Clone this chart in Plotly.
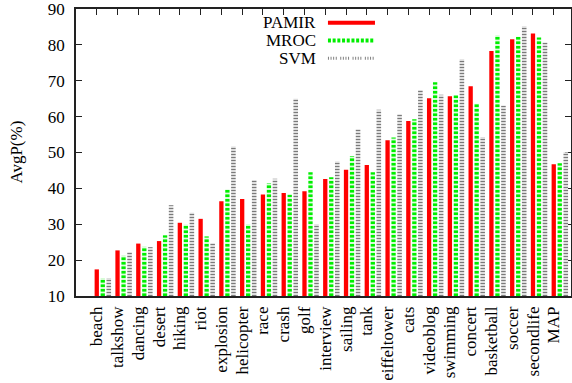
import plotly.graph_objects as go

categories = ["beach", "talkshow", "dancing", "desert", "hiking", "riot", "explosion",
              "helicopter", "race", "crash", "golf", "interview", "sailing", "tank",
              "eiffeltower", "cats", "videoblog", "swimming", "concert", "basketball",
              "soccer", "secondlife", "MAP"]
pamir = [17.4, 22.7, 24.6, 25.3, 30.4, 31.5, 36.4, 37.0, 38.3, 38.7, 39.2, 42.6,
         45.2, 46.5, 53.4, 58.8, 65.1, 65.7, 68.5, 78.3, 81.6, 83.2, 46.7]
mroc = [15.0, 21.2, 23.7, 26.9, 29.9, 26.6, 39.7, 30.0, 41.4, 38.2, 44.5, 43.1,
        49.0, 44.5, 54.2, 59.3, 69.6, 66.0, 63.6, 82.7, 82.3, 82.1, 47.0]
svm = [15.0, 22.2, 23.6, 35.3, 33.2, 24.7, 51.7, 42.3, 42.7, 65.0, 30.0, 47.5,
       56.5, 61.9, 60.7, 67.4, 66.1, 76.0, 54.3, 63.1, 85.2, 80.7, 50.1]
yticks = [10, 20, 30, 40, 50, 60, 70, 80, 90]
series_names = ["PAMIR", "MROC", "SVM"]

FONT = "Liberation Serif"
idx = list(range(len(categories)))

fig = go.Figure()
fig.add_trace(go.Bar(x=idx, y=pamir, name="PAMIR", width=0.207, offset=-0.104,
                     marker=dict(color="#ff0000", line=dict(width=0))))
fig.add_trace(go.Bar(x=idx, y=mroc, name="MROC", width=0.207, offset=0.185,
                     marker=dict(color="#ffffff", line=dict(width=0),
                                 pattern=dict(shape="-", fgcolor="#00ee00", bgcolor="#ffffff",
                                              size=4.5, solidity=0.65, fillmode="replace"))))
fig.add_trace(go.Bar(x=idx, y=svm, name="SVM", width=0.22, offset=0.468,
                     marker=dict(color="#ffffff", line=dict(width=0),
                                 pattern=dict(shape="-", fgcolor="#7a7a7a", bgcolor="#ffffff",
                                              size=3, solidity=0.5, fillmode="replace"))))

# manual legend (text right-aligned, sample on the right, gnuplot style)
leg_y = [0.952, 0.890, 0.828]
leg_styles = [dict(color="#ff0000", width=4, dash="solid"),
              dict(color="#00ee00", width=4, dash="3px,1.7px"),
              dict(color="#808080", width=3, dash="1px,1.6px,1px,1.6px,1px,1.6px,1px,3.5px")]
for name, yy, st in zip(series_names, leg_y, leg_styles):
    fig.add_annotation(x=0.488, y=yy, xref="paper", yref="paper", text=name,
                       showarrow=False, xanchor="right", yanchor="middle",
                       font=dict(family=FONT, size=17, color="black"))
    fig.add_shape(type="line", xref="paper", yref="paper", x0=0.509, x1=0.604,
                  y0=yy, y1=yy, line=st)

# y-axis title placed like gnuplot's ylabel
fig.add_annotation(x=-0.121, y=0.5, xref="paper", yref="paper", text="AvgP(%)",
                   textangle=-90, showarrow=False, xanchor="center", yanchor="middle",
                   font=dict(family=FONT, size=17, color="black"))

fig.update_layout(
    width=572, height=383,
    margin=dict(l=76, r=1, t=9, b=87),
    barmode="overlay",
    showlegend=False,
    plot_bgcolor="white", paper_bgcolor="white",
    font=dict(family=FONT, size=17, color="black"),
    xaxis=dict(range=[-1.0, 22.83], tickmode="array", tickvals=idx, ticktext=categories,
               tickangle=-90, ticks="inside", ticklen=6, tickwidth=1, tickcolor="#222",
               mirror="ticks", showline=True, linecolor="#222", linewidth=1.5,
               showgrid=False, zeroline=False, layer="below traces", automargin=False,
               ticklabelstandoff=2,
               tickfont=dict(family=FONT, size=17, color="black")),
    yaxis=dict(range=[9.98, 90.02], tickmode="array", tickvals=yticks,
               ticks="inside", ticklen=6, tickwidth=1, tickcolor="#222",
               mirror="ticks", showline=True, linecolor="#222", linewidth=1.5,
               showgrid=False, zeroline=False, layer="below traces", automargin=False,
               ticklabelstandoff=6,
               tickfont=dict(family=FONT, size=17, color="black")),
)

fig.write_html("out.html", config={"displayModeBar": False},
               post_script="document.body.style.margin='0';document.body.style.overflow='hidden';")
